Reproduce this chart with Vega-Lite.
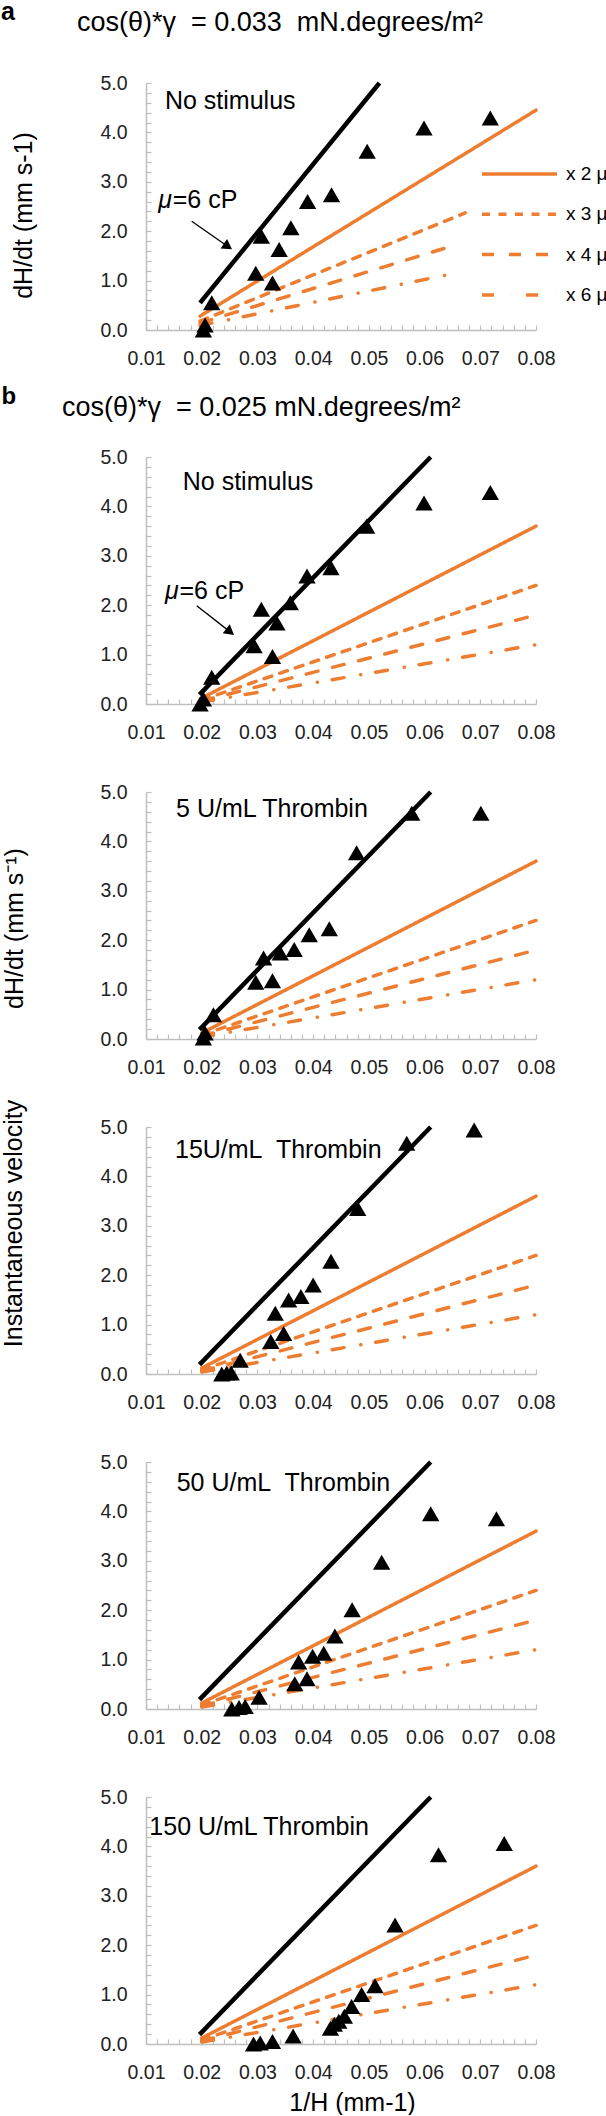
{
  "$schema": "https://vega.github.io/schema/vega-lite/v6.json",
  "description": "Capillary filling velocity dH/dt against 1/H, with model lines for increasing viscosity",
  "padding": {"left": 1, "top": 0, "right": 0, "bottom": 0},
  "title": {"text": "a", "anchor": "start", "frame": "group", "dx": -145, "dy": 36, "offset": 0, "fontSize": 25, "fontWeight": "bold", "font": "Liberation Sans", "color": "#000", "baseline": "alphabetic"},
  "bounds": "flush",
  "spacing": 88,
  "resolve": {
    "scale": {"x": "independent", "y": "independent", "strokeDash": "independent"},
    "axis": {"x": "independent", "y": "independent"},
    "legend": {"strokeDash": "independent"}
  },
  "config": {
    "font": "Liberation Sans",
    "view": {"stroke": null},
    "axis": {
      "domainColor": "#BFBFBF", "domainWidth": 1.5,
      "tickColor": "#BFBFBF", "tickWidth": 1.2, "tickSize": -5,
      "labelFont": "Liberation Sans", "labelFontSize": 19.5, "labelColor": "#222",
      "labelPadding": 24, "labelOverlap": false, "labelSeparation": -100, "labelFlush": false,
      "titleFont": "Liberation Sans", "titleFontSize": 25, "titleFontWeight": "normal", "titleColor": "#000",
      "grid": false
    },
    "text": {"font": "Liberation Sans", "fontSize": 25, "color": "#000", "align": "left", "baseline": "alphabetic"}
  },
  "datasets": {
    "one": [{}],
    "fits": [
      {"model": "0.033", "series": "x 1 μ", "x": 0.0197, "y": 0.55},
      {"model": "0.033", "series": "x 1 μ", "x": 0.0519, "y": 5.0},
      {"model": "0.033", "series": "x 2 μ", "x": 0.0197, "y": 0.28},
      {"model": "0.033", "series": "x 2 μ", "x": 0.08, "y": 4.45},
      {"model": "0.033", "series": "x 3 μ", "x": 0.0197, "y": 0.18},
      {"model": "0.033", "series": "x 3 μ", "x": 0.0673, "y": 2.37},
      {"model": "0.033", "series": "x 4 μ", "x": 0.0197, "y": 0.14},
      {"model": "0.033", "series": "x 4 μ", "x": 0.0658, "y": 1.73},
      {"model": "0.033", "series": "x 6 μ", "x": 0.0197, "y": 0.09},
      {"model": "0.033", "series": "x 6 μ", "x": 0.0651, "y": 1.14},
      {"model": "0.025", "series": "x 1 μ", "x": 0.0196, "y": 0.19},
      {"model": "0.025", "series": "x 1 μ", "x": 0.0611, "y": 5.0},
      {"model": "0.025", "series": "x 2 μ", "x": 0.02, "y": 0.12},
      {"model": "0.025", "series": "x 2 μ", "x": 0.08, "y": 3.6},
      {"model": "0.025", "series": "x 3 μ", "x": 0.02, "y": 0.08},
      {"model": "0.025", "series": "x 3 μ", "x": 0.08, "y": 2.4},
      {"model": "0.025", "series": "x 4 μ", "x": 0.02, "y": 0.06},
      {"model": "0.025", "series": "x 4 μ", "x": 0.08, "y": 1.8},
      {"model": "0.025", "series": "x 6 μ", "x": 0.02, "y": 0.04},
      {"model": "0.025", "series": "x 6 μ", "x": 0.08, "y": 1.2}
    ],
    "pts": [
      {"panel": "a", "x": 0.0203, "y": 0.0}, {"panel": "a", "x": 0.0206, "y": 0.1},
      {"panel": "a", "x": 0.0218, "y": 0.55}, {"panel": "a", "x": 0.0297, "y": 1.15},
      {"panel": "a", "x": 0.0327, "y": 0.95}, {"panel": "a", "x": 0.0307, "y": 1.9},
      {"panel": "a", "x": 0.0339, "y": 1.63}, {"panel": "a", "x": 0.036, "y": 2.07},
      {"panel": "a", "x": 0.039, "y": 2.6}, {"panel": "a", "x": 0.0433, "y": 2.74},
      {"panel": "a", "x": 0.0497, "y": 3.62}, {"panel": "a", "x": 0.0599, "y": 4.09},
      {"panel": "a", "x": 0.0718, "y": 4.29},
      {"panel": "none", "x": 0.0197, "y": 0.0}, {"panel": "none", "x": 0.0203, "y": 0.1},
      {"panel": "none", "x": 0.0218, "y": 0.54}, {"panel": "none", "x": 0.0294, "y": 1.18},
      {"panel": "none", "x": 0.0327, "y": 0.96}, {"panel": "none", "x": 0.0307, "y": 1.92},
      {"panel": "none", "x": 0.0335, "y": 1.64}, {"panel": "none", "x": 0.0359, "y": 2.05},
      {"panel": "none", "x": 0.0389, "y": 2.59}, {"panel": "none", "x": 0.0432, "y": 2.76},
      {"panel": "none", "x": 0.0496, "y": 3.6}, {"panel": "none", "x": 0.0599, "y": 4.07},
      {"panel": "none", "x": 0.0718, "y": 4.28},
      {"panel": "5U", "x": 0.0203, "y": 0.02}, {"panel": "5U", "x": 0.0206, "y": 0.12},
      {"panel": "5U", "x": 0.0221, "y": 0.49}, {"panel": "5U", "x": 0.0297, "y": 1.15},
      {"panel": "5U", "x": 0.0327, "y": 1.18}, {"panel": "5U", "x": 0.0311, "y": 1.64},
      {"panel": "5U", "x": 0.0341, "y": 1.74}, {"panel": "5U", "x": 0.0366, "y": 1.81},
      {"panel": "5U", "x": 0.0393, "y": 2.11}, {"panel": "5U", "x": 0.0429, "y": 2.23},
      {"panel": "5U", "x": 0.0478, "y": 3.77}, {"panel": "5U", "x": 0.0577, "y": 4.57},
      {"panel": "5U", "x": 0.0701, "y": 4.57},
      {"panel": "15U", "x": 0.0236, "y": 0.0}, {"panel": "15U", "x": 0.0245, "y": 0.02},
      {"panel": "15U", "x": 0.0253, "y": 0.02}, {"panel": "15U", "x": 0.0269, "y": 0.28},
      {"panel": "15U", "x": 0.0324, "y": 0.66}, {"panel": "15U", "x": 0.0347, "y": 0.82},
      {"panel": "15U", "x": 0.0332, "y": 1.23}, {"panel": "15U", "x": 0.0356, "y": 1.5},
      {"panel": "15U", "x": 0.0378, "y": 1.57}, {"panel": "15U", "x": 0.04, "y": 1.8},
      {"panel": "15U", "x": 0.0432, "y": 2.28}, {"panel": "15U", "x": 0.048, "y": 3.35},
      {"panel": "15U", "x": 0.0568, "y": 4.67}, {"panel": "15U", "x": 0.0689, "y": 4.94},
      {"panel": "50U", "x": 0.0254, "y": 0.0}, {"panel": "50U", "x": 0.0267, "y": 0.03},
      {"panel": "50U", "x": 0.0278, "y": 0.05}, {"panel": "50U", "x": 0.0303, "y": 0.24},
      {"panel": "50U", "x": 0.0367, "y": 0.51}, {"panel": "50U", "x": 0.0389, "y": 0.61},
      {"panel": "50U", "x": 0.0374, "y": 0.95}, {"panel": "50U", "x": 0.0399, "y": 1.07},
      {"panel": "50U", "x": 0.0419, "y": 1.13}, {"panel": "50U", "x": 0.0439, "y": 1.48},
      {"panel": "50U", "x": 0.047, "y": 2.01}, {"panel": "50U", "x": 0.0523, "y": 2.97},
      {"panel": "50U", "x": 0.0611, "y": 3.95}, {"panel": "50U", "x": 0.0729, "y": 3.85},
      {"panel": "150U", "x": 0.0293, "y": 0.0}, {"panel": "150U", "x": 0.0305, "y": 0.02},
      {"panel": "150U", "x": 0.0327, "y": 0.05}, {"panel": "150U", "x": 0.0364, "y": 0.16},
      {"panel": "150U", "x": 0.0431, "y": 0.32}, {"panel": "150U", "x": 0.0438, "y": 0.4},
      {"panel": "150U", "x": 0.0446, "y": 0.46}, {"panel": "150U", "x": 0.0456, "y": 0.56},
      {"panel": "150U", "x": 0.0469, "y": 0.76}, {"panel": "150U", "x": 0.0487, "y": 1.0},
      {"panel": "150U", "x": 0.0511, "y": 1.18}, {"panel": "150U", "x": 0.0547, "y": 2.41},
      {"panel": "150U", "x": 0.0625, "y": 3.83}, {"panel": "150U", "x": 0.0743, "y": 4.06}
    ]
  },
  "vconcat": [
    {
      "width": 390, "height": 247,
      "title": {"text": "cos(θ)*γ\u00a0 = 0.033\u00a0 mN.degrees/m²", "anchor": "start", "frame": "group", "dx": -69, "offset": 15, "fontSize": 27, "fontWeight": "normal", "font": "Liberation Sans", "color": "#000", "baseline": "alphabetic"},
      "layer": [
        {
          "data": {"name": "fits"},
          "transform": [{"filter": "datum.model === '0.033' && datum.series !== 'x 1 μ'"}],
          "mark": {"type": "line", "color": "#ED7D31", "strokeWidth": 3.5, "strokeCap": "round"},
          "encoding": {
            "x": {"field": "x", "type": "quantitative", "scale": {"domain": [0.01, 0.08]},
              "axis": {"values": [0.01,0.012,0.014,0.016,0.018,0.02,0.022,0.024,0.026,0.028,0.03,0.032,0.034,0.036,0.038,0.04,0.042,0.044,0.046,0.048,0.05,0.052,0.054,0.056,0.058,0.06,0.062,0.064,0.066,0.068,0.07,0.072,0.074,0.076,0.078,0.08],
                "tickCount": 200,
                "labelExpr": "abs(datum.value * 100 - round(datum.value * 100)) < 0.01 ? format(datum.value, '.2f') : ''",
                "labelOverlap": false, "labelFlush": false,
                "title": "b", "titleX": -145, "titleY": 73, "titleAngle": 0, "titleAlign": "left", "titleBaseline": "alphabetic", "titleFontWeight": "bold", "titleFontSize": 24}},
            "y": {"field": "y", "type": "quantitative", "scale": {"domain": [0, 5]},
              "axis": {"values": [0,0.2,0.4,0.6,0.8,1,1.2,1.4,1.6,1.8,2,2.2,2.4,2.6,2.8,3,3.2,3.4,3.6,3.8,4,4.2,4.4,4.6,4.8,5],
                "tickCount": 200,
                "labelExpr": "abs(datum.value - round(datum.value)) < 0.01 ? format(datum.value, '.1f') : ''",
                "labelOverlap": false, "labelFlush": false,
                "title": "dH/dt (mm s-1)", "titleX": -115, "titleY": 132, "titleAngle": -90, "titleAlign": "center", "titleBaseline": "alphabetic"}},
            "strokeDash": {"field": "series", "type": "nominal",
              "scale": {"domain": ["x 2 μ", "x 3 μ", "x 4 μ", "x 6 μ"], "range": [[1, 0], [8, 8.5], [12, 15], [12, 17, 0.1, 15]]},
              "legend": {"orient": "none", "legendX": 334, "legendY": 81, "title": null, "padding": 0,
                "symbolType": "stroke", "symbolSize": 5625, "symbolStrokeWidth": 3.5, "symbolStrokeColor": "#ED7D31",
                "clipHeight": 20, "rowPadding": 20.3, "labelOffset": 7,
                "labelFont": "Liberation Sans", "labelFontSize": 19, "labelColor": "#000"}}
          }
        },
        {
          "data": {"name": "fits"},
          "transform": [{"filter": "datum.model === '0.033' && datum.series === 'x 1 μ'"}],
          "mark": {"type": "line", "color": "#000", "strokeWidth": 4.5},
          "encoding": {"x": {"field": "x", "type": "quantitative"}, "y": {"field": "y", "type": "quantitative"}}
        },
        {
          "data": {"name": "pts"},
          "transform": [{"filter": "datum.panel === 'a'"}],
          "mark": {"type": "point", "shape": "triangle-up", "filled": true, "color": "#000", "size": 300, "opacity": 1},
          "encoding": {"x": {"field": "x", "type": "quantitative"}, "y": {"field": "y", "type": "quantitative"}}
        },
        {"data": {"name": "one"}, "mark": {"type": "text", "text": "No stimulus"}, "encoding": {"x": {"datum": 0.0134}, "y": {"datum": 4.47}}},
        {"data": {"name": "one"}, "mark": {"type": "text", "text": "μ", "fontStyle": "italic"}, "encoding": {"x": {"datum": 0.0122}, "y": {"datum": 2.47}}},
        {"data": {"name": "one"}, "mark": {"type": "text", "text": "=6 cP"}, "encoding": {"x": {"datum": 0.0148}, "y": {"datum": 2.47}}},
        {"data": {"name": "one"}, "mark": {"type": "rule", "color": "#000", "strokeWidth": 1.3},
          "encoding": {"x": {"datum": 0.0182}, "y": {"datum": 2.2}, "x2": {"datum": 0.0247}, "y2": {"datum": 1.69}}},
        {"data": {"name": "one"}, "mark": {"type": "point", "shape": "triangle-up", "filled": true, "color": "#000", "opacity": 1, "size": 130, "angle": 124.5},
          "encoding": {"x": {"datum": 0.0247}, "y": {"datum": 1.69}}}
      ]
    },
    {
      "width": 390, "height": 286,
      "title": {"text": "cos(θ)*γ\u00a0 = 0.025 mN.degrees/m²", "anchor": "start", "frame": "group", "dx": -84, "offset": -25, "fontSize": 27, "fontWeight": "normal", "font": "Liberation Sans", "color": "#000", "baseline": "alphabetic"},
      "layer": [
        {
          "data": {"name": "fits"},
          "transform": [{"filter": "datum.model === '0.025' && datum.series !== 'x 1 μ'"}],
          "mark": {"type": "line", "color": "#ED7D31", "strokeWidth": 3.5, "strokeCap": "round"},
          "encoding": {
            "x": {"field": "x", "type": "quantitative", "scale": {"domain": [0.01, 0.08]},
              "axis": {"values": [0.01,0.012,0.014,0.016,0.018,0.02,0.022,0.024,0.026,0.028,0.03,0.032,0.034,0.036,0.038,0.04,0.042,0.044,0.046,0.048,0.05,0.052,0.054,0.056,0.058,0.06,0.062,0.064,0.066,0.068,0.07,0.072,0.074,0.076,0.078,0.08],
                "tickCount": 200,
                "labelExpr": "abs(datum.value * 100 - round(datum.value * 100)) < 0.01 ? format(datum.value, '.2f') : ''",
                "labelOverlap": false, "labelFlush": false, "title": null}},
            "y": {"field": "y", "type": "quantitative", "scale": {"domain": [0, 5], "range": [286, 39]},
              "axis": {"values": [0,0.2,0.4,0.6,0.8,1,1.2,1.4,1.6,1.8,2,2.2,2.4,2.6,2.8,3,3.2,3.4,3.6,3.8,4,4.2,4.4,4.6,4.8,5],
                "tickCount": 200,
                "labelExpr": "abs(datum.value - round(datum.value)) < 0.01 ? format(datum.value, '.1f') : ''",
                "labelOverlap": false, "labelFlush": false, "title": null}},
            "strokeDash": {"field": "series", "type": "nominal", "legend": null,
              "scale": {"domain": ["x 2 μ", "x 3 μ", "x 4 μ", "x 6 μ"], "range": [[1, 0], [8, 8.5], [12, 15], [12, 17, 0.1, 15]]}}
          }
        },
        {
          "data": {"name": "fits"},
          "transform": [{"filter": "datum.model === '0.025' && datum.series === 'x 1 μ'"}],
          "mark": {"type": "line", "color": "#000", "strokeWidth": 4.5},
          "encoding": {"x": {"field": "x", "type": "quantitative"}, "y": {"field": "y", "type": "quantitative"}}
        },
        {
          "data": {"name": "pts"},
          "transform": [{"filter": "datum.panel === 'none'"}],
          "mark": {"type": "point", "shape": "triangle-up", "filled": true, "color": "#000", "size": 300, "opacity": 1},
          "encoding": {"x": {"field": "x", "type": "quantitative"}, "y": {"field": "y", "type": "quantitative"}}
        },
        {"data": {"name": "one"}, "mark": {"type": "text", "text": "No stimulus"}, "encoding": {"x": {"datum": 0.0166}, "y": {"datum": 4.34}}},
        {"data": {"name": "one"}, "mark": {"type": "text", "text": "μ", "fontStyle": "italic"}, "encoding": {"x": {"datum": 0.0134}, "y": {"datum": 2.13}}},
        {"data": {"name": "one"}, "mark": {"type": "text", "text": "=6 cP"}, "encoding": {"x": {"datum": 0.016}, "y": {"datum": 2.13}}},
        {"data": {"name": "one"}, "mark": {"type": "rule", "color": "#000", "strokeWidth": 1.3},
          "encoding": {"x": {"datum": 0.0191}, "y": {"datum": 1.99}, "x2": {"datum": 0.0251}, "y2": {"datum": 1.46}}},
        {"data": {"name": "one"}, "mark": {"type": "point", "shape": "triangle-up", "filled": true, "color": "#000", "opacity": 1, "size": 130, "angle": 128},
          "encoding": {"x": {"datum": 0.0251}, "y": {"datum": 1.46}}}
      ]
    },
    {
      "width": 390, "height": 247,
      "layer": [
        {
          "data": {"name": "fits"},
          "transform": [{"filter": "datum.model === '0.025' && datum.series !== 'x 1 μ'"}],
          "mark": {"type": "line", "color": "#ED7D31", "strokeWidth": 3.5, "strokeCap": "round"},
          "encoding": {
            "x": {"field": "x", "type": "quantitative", "scale": {"domain": [0.01, 0.08]},
              "axis": {"values": [0.01,0.012,0.014,0.016,0.018,0.02,0.022,0.024,0.026,0.028,0.03,0.032,0.034,0.036,0.038,0.04,0.042,0.044,0.046,0.048,0.05,0.052,0.054,0.056,0.058,0.06,0.062,0.064,0.066,0.068,0.07,0.072,0.074,0.076,0.078,0.08],
                "tickCount": 200,
                "labelExpr": "abs(datum.value * 100 - round(datum.value * 100)) < 0.01 ? format(datum.value, '.2f') : ''",
                "labelOverlap": false, "labelFlush": false, "title": null}},
            "y": {"field": "y", "type": "quantitative", "scale": {"domain": [0, 5]},
              "axis": {"values": [0,0.2,0.4,0.6,0.8,1,1.2,1.4,1.6,1.8,2,2.2,2.4,2.6,2.8,3,3.2,3.4,3.6,3.8,4,4.2,4.4,4.6,4.8,5],
                "tickCount": 200,
                "labelExpr": "abs(datum.value - round(datum.value)) < 0.01 ? format(datum.value, '.1f') : ''",
                "labelOverlap": false, "labelFlush": false,
                "title": "dH/dt (mm s⁻¹)", "titleX": -124, "titleY": 136, "titleAngle": -90, "titleAlign": "center", "titleBaseline": "alphabetic"}},
            "strokeDash": {"field": "series", "type": "nominal", "legend": null,
              "scale": {"domain": ["x 2 μ", "x 3 μ", "x 4 μ", "x 6 μ"], "range": [[1, 0], [8, 8.5], [12, 15], [12, 17, 0.1, 15]]}}
          }
        },
        {
          "data": {"name": "fits"},
          "transform": [{"filter": "datum.model === '0.025' && datum.series === 'x 1 μ'"}],
          "mark": {"type": "line", "color": "#000", "strokeWidth": 4.5},
          "encoding": {"x": {"field": "x", "type": "quantitative"}, "y": {"field": "y", "type": "quantitative"}}
        },
        {
          "data": {"name": "pts"},
          "transform": [{"filter": "datum.panel === '5U'"}],
          "mark": {"type": "point", "shape": "triangle-up", "filled": true, "color": "#000", "size": 300, "opacity": 1},
          "encoding": {"x": {"field": "x", "type": "quantitative"}, "y": {"field": "y", "type": "quantitative"}}
        },
        {"data": {"name": "one"}, "mark": {"type": "text", "text": "5 U/mL Thrombin"}, "encoding": {"x": {"datum": 0.0154}, "y": {"datum": 4.49}}}
      ]
    },
    {
      "width": 390, "height": 247,
      "layer": [
        {
          "data": {"name": "fits"},
          "transform": [{"filter": "datum.model === '0.025' && datum.series !== 'x 1 μ'"}],
          "mark": {"type": "line", "color": "#ED7D31", "strokeWidth": 3.5, "strokeCap": "round"},
          "encoding": {
            "x": {"field": "x", "type": "quantitative", "scale": {"domain": [0.01, 0.08]},
              "axis": {"values": [0.01,0.012,0.014,0.016,0.018,0.02,0.022,0.024,0.026,0.028,0.03,0.032,0.034,0.036,0.038,0.04,0.042,0.044,0.046,0.048,0.05,0.052,0.054,0.056,0.058,0.06,0.062,0.064,0.066,0.068,0.07,0.072,0.074,0.076,0.078,0.08],
                "tickCount": 200,
                "labelExpr": "abs(datum.value * 100 - round(datum.value * 100)) < 0.01 ? format(datum.value, '.2f') : ''",
                "labelOverlap": false, "labelFlush": false, "title": null}},
            "y": {"field": "y", "type": "quantitative", "scale": {"domain": [0, 5]},
              "axis": {"values": [0,0.2,0.4,0.6,0.8,1,1.2,1.4,1.6,1.8,2,2.2,2.4,2.6,2.8,3,3.2,3.4,3.6,3.8,4,4.2,4.4,4.6,4.8,5],
                "tickCount": 200,
                "labelExpr": "abs(datum.value - round(datum.value)) < 0.01 ? format(datum.value, '.1f') : ''",
                "labelOverlap": false, "labelFlush": false,
                "title": "Instantaneous velocity", "titleX": -125, "titleY": 96, "titleAngle": -90, "titleAlign": "center", "titleBaseline": "alphabetic"}},
            "strokeDash": {"field": "series", "type": "nominal", "legend": null,
              "scale": {"domain": ["x 2 μ", "x 3 μ", "x 4 μ", "x 6 μ"], "range": [[1, 0], [8, 8.5], [12, 15], [12, 17, 0.1, 15]]}}
          }
        },
        {
          "data": {"name": "fits"},
          "transform": [{"filter": "datum.model === '0.025' && datum.series === 'x 1 μ'"}],
          "mark": {"type": "line", "color": "#000", "strokeWidth": 4.5},
          "encoding": {"x": {"field": "x", "type": "quantitative"}, "y": {"field": "y", "type": "quantitative"}}
        },
        {
          "data": {"name": "pts"},
          "transform": [{"filter": "datum.panel === '15U'"}],
          "mark": {"type": "point", "shape": "triangle-up", "filled": true, "color": "#000", "size": 300, "opacity": 1},
          "encoding": {"x": {"field": "x", "type": "quantitative"}, "y": {"field": "y", "type": "quantitative"}}
        },
        {"data": {"name": "one"}, "mark": {"type": "text", "text": "15U/mL\u00a0 Thrombin"}, "encoding": {"x": {"datum": 0.0152}, "y": {"datum": 4.37}}}
      ]
    },
    {
      "width": 390, "height": 247,
      "layer": [
        {
          "data": {"name": "fits"},
          "transform": [{"filter": "datum.model === '0.025' && datum.series !== 'x 1 μ'"}],
          "mark": {"type": "line", "color": "#ED7D31", "strokeWidth": 3.5, "strokeCap": "round"},
          "encoding": {
            "x": {"field": "x", "type": "quantitative", "scale": {"domain": [0.01, 0.08]},
              "axis": {"values": [0.01,0.012,0.014,0.016,0.018,0.02,0.022,0.024,0.026,0.028,0.03,0.032,0.034,0.036,0.038,0.04,0.042,0.044,0.046,0.048,0.05,0.052,0.054,0.056,0.058,0.06,0.062,0.064,0.066,0.068,0.07,0.072,0.074,0.076,0.078,0.08],
                "tickCount": 200,
                "labelExpr": "abs(datum.value * 100 - round(datum.value * 100)) < 0.01 ? format(datum.value, '.2f') : ''",
                "labelOverlap": false, "labelFlush": false, "title": null}},
            "y": {"field": "y", "type": "quantitative", "scale": {"domain": [0, 5]},
              "axis": {"values": [0,0.2,0.4,0.6,0.8,1,1.2,1.4,1.6,1.8,2,2.2,2.4,2.6,2.8,3,3.2,3.4,3.6,3.8,4,4.2,4.4,4.6,4.8,5],
                "tickCount": 200,
                "labelExpr": "abs(datum.value - round(datum.value)) < 0.01 ? format(datum.value, '.1f') : ''",
                "labelOverlap": false, "labelFlush": false, "title": null}},
            "strokeDash": {"field": "series", "type": "nominal", "legend": null,
              "scale": {"domain": ["x 2 μ", "x 3 μ", "x 4 μ", "x 6 μ"], "range": [[1, 0], [8, 8.5], [12, 15], [12, 17, 0.1, 15]]}}
          }
        },
        {
          "data": {"name": "fits"},
          "transform": [{"filter": "datum.model === '0.025' && datum.series === 'x 1 μ'"}],
          "mark": {"type": "line", "color": "#000", "strokeWidth": 4.5},
          "encoding": {"x": {"field": "x", "type": "quantitative"}, "y": {"field": "y", "type": "quantitative"}}
        },
        {
          "data": {"name": "pts"},
          "transform": [{"filter": "datum.panel === '50U'"}],
          "mark": {"type": "point", "shape": "triangle-up", "filled": true, "color": "#000", "size": 300, "opacity": 1},
          "encoding": {"x": {"field": "x", "type": "quantitative"}, "y": {"field": "y", "type": "quantitative"}}
        },
        {"data": {"name": "one"}, "mark": {"type": "text", "text": "50 U/mL\u00a0 Thrombin"}, "encoding": {"x": {"datum": 0.0155}, "y": {"datum": 4.41}}}
      ]
    },
    {
      "width": 390, "height": 247,
      "layer": [
        {
          "data": {"name": "fits"},
          "transform": [{"filter": "datum.model === '0.025' && datum.series !== 'x 1 μ'"}],
          "mark": {"type": "line", "color": "#ED7D31", "strokeWidth": 3.5, "strokeCap": "round"},
          "encoding": {
            "x": {"field": "x", "type": "quantitative", "scale": {"domain": [0.01, 0.08]},
              "axis": {"values": [0.01,0.012,0.014,0.016,0.018,0.02,0.022,0.024,0.026,0.028,0.03,0.032,0.034,0.036,0.038,0.04,0.042,0.044,0.046,0.048,0.05,0.052,0.054,0.056,0.058,0.06,0.062,0.064,0.066,0.068,0.07,0.072,0.074,0.076,0.078,0.08],
                "tickCount": 200,
                "labelExpr": "abs(datum.value * 100 - round(datum.value * 100)) < 0.01 ? format(datum.value, '.2f') : ''",
                "labelOverlap": false, "labelFlush": false,
                "title": "1/H (mm-1)", "titleX": 206, "titleY": 66, "titleAngle": 0, "titleAlign": "center", "titleBaseline": "alphabetic"}},
            "y": {"field": "y", "type": "quantitative", "scale": {"domain": [0, 5]},
              "axis": {"values": [0,0.2,0.4,0.6,0.8,1,1.2,1.4,1.6,1.8,2,2.2,2.4,2.6,2.8,3,3.2,3.4,3.6,3.8,4,4.2,4.4,4.6,4.8,5],
                "tickCount": 200,
                "labelExpr": "abs(datum.value - round(datum.value)) < 0.01 ? format(datum.value, '.1f') : ''",
                "labelOverlap": false, "labelFlush": false, "title": null}},
            "strokeDash": {"field": "series", "type": "nominal", "legend": null,
              "scale": {"domain": ["x 2 μ", "x 3 μ", "x 4 μ", "x 6 μ"], "range": [[1, 0], [8, 8.5], [12, 15], [12, 17, 0.1, 15]]}}
          }
        },
        {
          "data": {"name": "fits"},
          "transform": [{"filter": "datum.model === '0.025' && datum.series === 'x 1 μ'"}],
          "mark": {"type": "line", "color": "#000", "strokeWidth": 4.5},
          "encoding": {"x": {"field": "x", "type": "quantitative"}, "y": {"field": "y", "type": "quantitative"}}
        },
        {
          "data": {"name": "pts"},
          "transform": [{"filter": "datum.panel === '150U'"}],
          "mark": {"type": "point", "shape": "triangle-up", "filled": true, "color": "#000", "size": 300, "opacity": 1},
          "encoding": {"x": {"field": "x", "type": "quantitative"}, "y": {"field": "y", "type": "quantitative"}}
        },
        {"data": {"name": "one"}, "mark": {"type": "text", "text": "150 U/mL Thrombin"}, "encoding": {"x": {"datum": 0.0106}, "y": {"datum": 4.23}}}
      ]
    }
  ]
}
